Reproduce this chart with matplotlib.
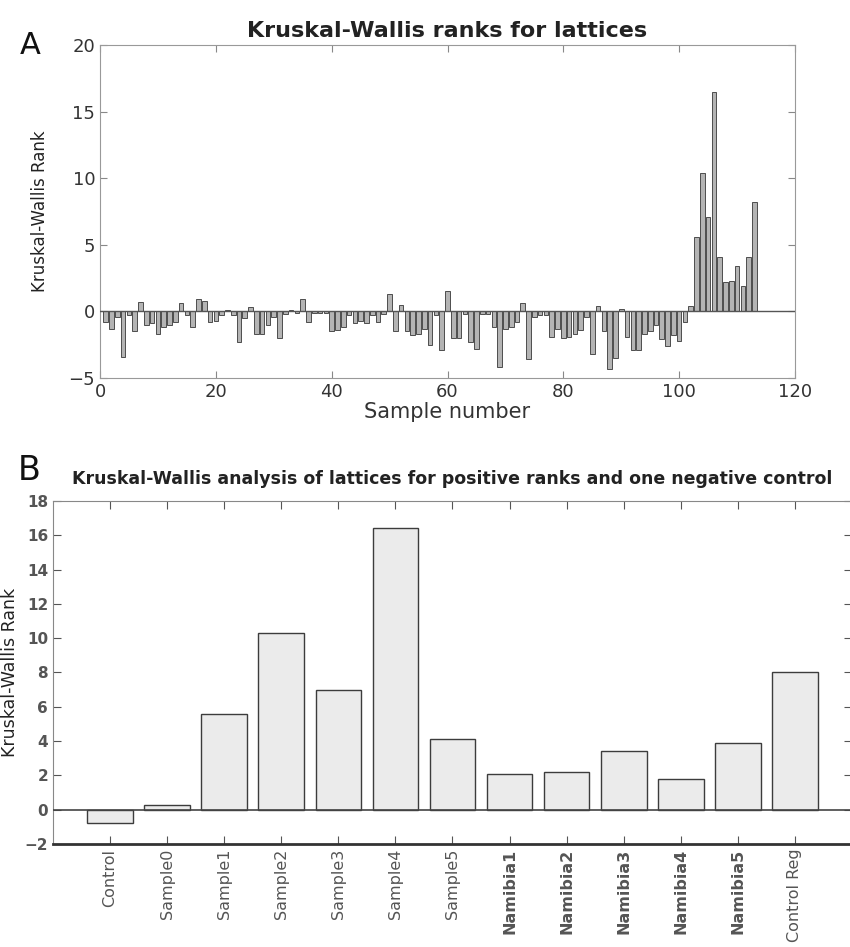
import numpy as np
import matplotlib
matplotlib.use("Agg")
import matplotlib.pyplot as plt

# ______ data panel A : rang de Kruskal-Wallis par echantillon (1..113)
ranks_a = [
    -0.8, -1.3, -0.4, -3.4, -0.3, -1.5, 0.7, -1.0, -0.9, -1.7,
    -1.2, -1.0, -0.8, 0.6, -0.3, -1.2, 0.9, 0.8, -0.8, -0.7,
    -0.3, 0.1, -0.3, -2.3, -0.5, 0.3, -1.7, -1.7, -1.0, -0.4,
    -2.0, -0.2, 0.1, -0.1, 0.9, -0.8, -0.1, -0.1, -0.1, -1.5,
    -1.4, -1.2, -0.3, -0.9, -0.7, -0.9, -0.3, -0.8, -0.2, 1.3,
    -1.5, 0.5, -1.5, -1.8, -1.7, -1.3, -2.5, -0.3, -2.9, 1.5,
    -2.0, -2.0, -0.2, -2.3, -2.8, -0.2, -0.2, -1.2, -4.2, -1.3,
    -1.2, -0.8, 0.6, -3.6, -0.4, -0.3, -0.3, -1.9, -1.3, -2.0,
    -1.9, -1.7, -1.4, -0.4, -3.2, 0.4, -1.5, -4.3, -3.5, 0.2,
    -1.9, -2.9, -2.9, -1.7, -1.5, -1.0, -2.1, -2.6, -1.8, -2.2,
    -0.8, 0.4, 5.6, 10.4, 7.1, 16.5, 4.1, 2.2, 2.3, 3.4,
    1.9, 4.1, 8.2,
]
samples_a = np.arange(1, len(ranks_a) + 1)

# ______ data panel B : rangs positifs + un controle negatif
groups_b = ["Control", "Sample0", "Sample1", "Sample2", "Sample3", "Sample4",
            "Sample5", "Namibia1", "Namibia2", "Namibia3", "Namibia4",
            "Namibia5", "Control Reg"]
ranks_b = [-0.8, 0.3, 5.6, 10.3, 7.0, 16.4, 4.1, 2.1, 2.2, 3.4, 1.8, 3.9, 8.0]

xticks_a = [0, 20, 40, 60, 80, 100, 120]
yticks_a = [-5, 0, 5, 10, 15, 20]
yticks_b = list(range(-2, 19, 2))

fig = plt.figure(figsize=(8.5, 9.47), dpi=100)

# ______A______
axA = fig.add_axes([100/850, 1-378/947, 695/850, 333/947])
axA.bar(samples_a, ranks_a, width=0.8, color="#b4b4b4", edgecolor="#4d4d4d", linewidth=0.7, zorder=2)
axA.axhline(0, color="#555555", lw=1.0, zorder=3)
axA.set_xlim(0, 120)
axA.set_ylim(-5, 20)
axA.set_xticks(xticks_a)
axA.set_yticks(yticks_a)
axA.tick_params(direction="in", top=True, right=True, length=5, colors="#888888",
                labelcolor="#333333", labelsize=13)
for s in axA.spines.values():
    s.set_color("#999999")
axA.set_xlabel("Sample number", fontsize=15, color="#333333", labelpad=1)
axA.set_ylabel("Kruskal-Wallis Rank", fontsize=12, color="#222222", labelpad=14)
axA.set_title("Kruskal-Wallis ranks for lattices", fontsize=16, fontweight="bold",
              color="#222222", pad=6)
fig.text(20/850, 1-45/947, "A", fontsize=22, color="#111111", va="center")

# ______B______
axB = fig.add_axes([53/850, 1-844/947, 799/850, 343/947])
xb = np.arange(1, len(groups_b) + 1)
axB.bar(xb, ranks_b, width=0.8, color="#ebebeb", edgecolor="#3c3c3c", linewidth=1.0, zorder=2)
axB.axhline(0, color="#444444", lw=1.2, zorder=3)
axB.set_xlim(0, 14)
axB.set_ylim(-2, 18)
axB.set_yticks(yticks_b)
axB.set_xticks(xb)
axB.set_xticklabels(groups_b, rotation=90, fontsize=11.5)
for lab in axB.get_xticklabels():
    if lab.get_text().startswith("Namibia"):
        lab.set_color("#222222")
        lab.set_fontweight("bold")
    else:
        lab.set_color("#666666")
axB.tick_params(direction="in", top=True, right=True, length=6, colors="#555555")
axB.tick_params(axis="y", labelcolor="#555555", labelsize=11)
for t in axB.get_yticklabels():
    t.set_fontweight("bold")
for k, s in axB.spines.items():
    s.set_color("#888888")
axB.spines["bottom"].set_color("#333333")
axB.spines["bottom"].set_linewidth(2.0)
axB.set_ylabel("Kruskal-Wallis Rank", fontsize=12.5, color="#222222", labelpad=4)
axB.set_title("Kruskal-Wallis analysis of lattices for positive ranks and one negative control",
              fontsize=12.5, fontweight="bold", color="#222222", pad=12, x=(452-53)/799)
fig.text(18/850, 1-470/947, "B", fontsize=24, color="#111111", va="center")

plt.savefig("out.png", dpi=100)
